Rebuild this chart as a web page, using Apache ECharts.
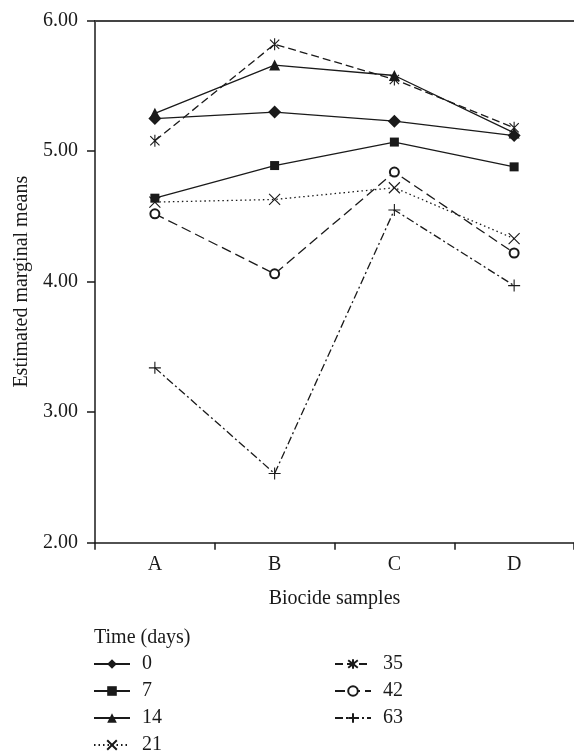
<!DOCTYPE html>
<html>
<head>
<meta charset="utf-8">
<style>
  html, body { margin: 0; padding: 0; background: #fff; }
  #chart { width: 574px; height: 751px; }
</style>
<script src="https://cdn.jsdelivr.net/npm/echarts@6/dist/echarts.min.js"></script>
</head>
<body>
<div id="chart"></div>
<script>
// ---- data ----
const categories = ['A', 'B', 'C', 'D'];
const yTicks = [2, 3, 4, 5, 6];
const day0  = [5.25, 5.30, 5.23, 5.12];
const day7  = [4.64, 4.89, 5.07, 4.88];
const day14 = [5.29, 5.66, 5.58, 5.14];
const day21 = [4.61, 4.63, 4.72, 4.33];
const day35 = [5.08, 5.82, 5.55, 5.18];
const day42 = [4.52, 4.06, 4.84, 4.22];
const day63 = [3.34, 2.53, 4.55, 3.97];
const seriesNames = ['0', '7', '14', '21', '35', '42', '63'];

const FONT = 'Liberation Serif';
const INK = '#1a1a1a';

const crossPath = 'path://M0,0L10,10M10,0L0,10';
const starPath = 'path://M0,0L10,10M10,0L0,10M5,-1.5L5,11.5';
const plusPath = 'path://M5,0L5,10M0,5L10,5';

function mk(name, data, symbol, size, lineType, strokeSym) {
  return {
    name: name,
    type: 'line',
    data: data,
    symbol: symbol,
    symbolSize: size,
    symbolKeepAspect: true,
    showSymbol: true,
    lineStyle: { color: INK, width: 1.3, type: lineType },
    itemStyle: strokeSym
      ? { color: INK, borderColor: INK, borderWidth: 1.1 }
      : { color: INK, borderColor: INK, borderWidth: 0 },
    emphasis: { disabled: true },
    animation: false
  };
}

const legendCommon = {
  orient: 'vertical',
  padding: 0,
  height: 140,
  itemWidth: 36, itemHeight: 12, itemGap: 7,
  textStyle: { fontFamily: FONT, fontSize: 20, color: INK, lineHeight: 20, padding: [0, 0, 0, 7] },
  selectedMode: false
};

const chart = echarts.init(document.getElementById('chart'), null, { renderer: 'canvas' });
chart.setOption({
  animation: false,
  textStyle: { fontFamily: FONT, color: INK },
  grid: { left: 95, width: 481, top: 20.7, height: 522, containLabel: false },
  title: {
    text: 'Time (days)',
    left: 94, top: 628, padding: 0,
    textStyle: { fontFamily: FONT, fontSize: 20, fontWeight: 'normal', color: INK }
  },
  legend: [
    Object.assign({}, legendCommon, { data: seriesNames.slice(0, 4), left: 93, top: 654 }),
    Object.assign({}, legendCommon, { data: seriesNames.slice(4), left: 334, top: 654 })
  ],
  xAxis: [
    {
      type: 'category',
      data: categories,
      boundaryGap: true,
      name: 'Biocide samples',
      nameLocation: 'middle',
      nameGap: 46,
      nameTextStyle: { fontFamily: FONT, fontSize: 20, color: INK },
      axisLine: { lineStyle: { color: INK, width: 1.5 } },
      axisTick: { show: true, length: 7, lineStyle: { color: INK, width: 1.5 } },
      axisLabel: { margin: 12, fontFamily: FONT, fontSize: 20, color: INK }
    },
    {
      type: 'category',
      data: categories,
      position: 'top',
      axisLine: { lineStyle: { color: '#444', width: 2 } },
      axisTick: { show: false },
      axisLabel: { show: false }
    }
  ],
  yAxis: {
    type: 'value',
    min: yTicks[0],
    max: yTicks[yTicks.length - 1],
    interval: 1,
    name: 'Estimated marginal means',
    nameLocation: 'middle',
    nameGap: 55,
    nameTextStyle: { fontFamily: FONT, fontSize: 20, color: INK },
    axisLine: { show: true, lineStyle: { color: INK, width: 1.5 } },
    axisTick: { show: true, length: 8, lineStyle: { color: INK, width: 1.5 } },
    axisLabel: { margin: 17, fontFamily: FONT, fontSize: 20, color: INK, formatter: v => v.toFixed(2) },
    splitLine: { show: false }
  },
  series: [
    mk('0', day0, 'diamond', 13, 'solid', null),
    mk('7', day7, 'rect', 9, 'solid', null),
    mk('14', day14, 'triangle', 11, 'solid', null),
    mk('21', day21, crossPath, 11, [1.5, 3], 'line'),
    mk('35', day35, starPath, 12, [8, 4], 'line'),
    mk('42', day42, 'emptyCircle', 9, [10, 5], 'empty'),
    mk('63', day63, plusPath, 12, [8, 3, 2, 3], 'line')
  ]
});
</script>
</body>
</html>
